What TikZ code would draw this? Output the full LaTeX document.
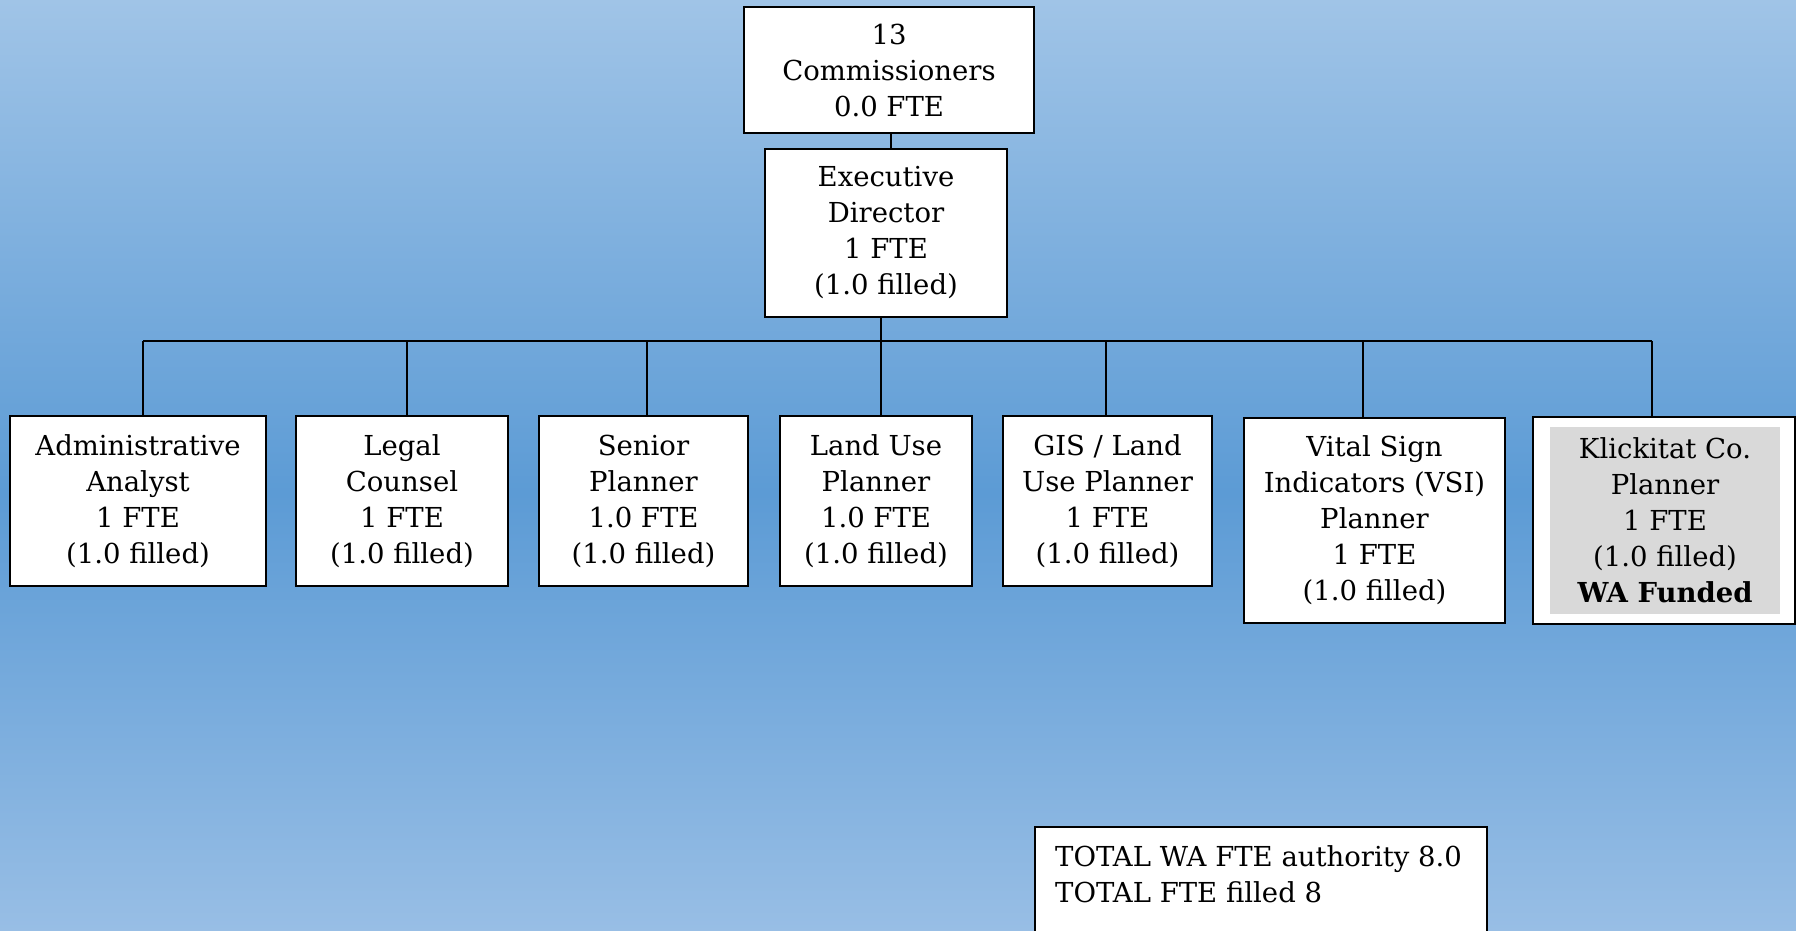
\documentclass[tikz,border=0pt]{standalone}
\usepackage{fontspec}
\setmainfont{DejaVu Serif}
\definecolor{bgtop}{RGB}{160,196,231}
\definecolor{bgmid}{RGB}{92,155,213}
\definecolor{bgbot}{RGB}{152,190,229}
\definecolor{klgray}{RGB}{217,217,217}
\pgfdeclareverticalshading{bgshade}{100bp}{color(0bp)=(bgbot); color(25bp)=(bgbot); color(48.5bp)=(bgmid); color(75bp)=(bgtop); color(100bp)=(bgtop)}
\tikzset{
  boxfont/.style={font=\fontsize{27.5}{36}\selectfont},
  box/.style={draw=black, line width=2pt, fill=white, align=center, inner sep=0pt, boxfont},
  conn/.style={draw=black, line width=2pt},
}
\begin{document}
\begin{tikzpicture}[x=1pt,y=-1pt]
\useasboundingbox (0,0) rectangle (1796,931);
\shade[shading=bgshade] (0,0) rectangle (1796,931);
% top
\node[box, minimum width=290pt, minimum height=126pt] (comm) at (889,70) {13\\Commissioners\\0.0 FTE};
\node[box, minimum width=242pt, minimum height=168pt] (exec) at (886,233) {Executive\\Director\\1 FTE\\(1.0 filled)};
% row
\node[box, minimum width=256pt, minimum height=170pt] (admin) at (138,501) {Administrative\\Analyst\\1 FTE\\(1.0 filled)};
\node[box, minimum width=212pt, minimum height=170pt] (legal) at (402,501) {Legal\\Counsel\\1 FTE\\(1.0 filled)};
\node[box, minimum width=209pt, minimum height=170pt] (senior) at (643.5,501) {Senior\\Planner\\1.0 FTE\\(1.0 filled)};
\node[box, minimum width=192pt, minimum height=170pt] (land) at (876,501) {Land Use\\Planner\\1.0 FTE\\(1.0 filled)};
\node[box, minimum width=209pt, minimum height=170pt] (gis) at (1107.5,501) {GIS / Land\\Use Planner\\1 FTE\\(1.0 filled)};
\node[box, minimum width=261pt, minimum height=205pt] (vital) at (1374.5,520.5) {Vital Sign\\Indicators (VSI)\\Planner\\1 FTE\\(1.0 filled)};
\node[box, minimum width=262pt, minimum height=207pt] (klick) at (1664,520.5) {};
\node[fill=klgray, minimum width=230pt, minimum height=187pt, inner sep=0pt, align=center, boxfont]
  (klickin) at (1665,520.5) {Klickitat Co.\\Planner\\1 FTE\\(1.0 filled)\\\textbf{WA Funded}};
% total
\node[box, anchor=north west, minimum width=452pt, minimum height=140pt] (total) at (1034,826) {};
\node[anchor=west, align=left, inner sep=0pt, boxfont] (totaltext) at (1055,874)
  {TOTAL WA FTE authority 8.0\\TOTAL FTE filled 8};
% connectors
\coordinate (busL) at (143,341);
\coordinate (busR) at (1652,341);
\coordinate (tapA) at (143,341);
\coordinate (tapB) at (406.5,341);
\coordinate (tapC) at (647,341);
\coordinate (tapD) at (881,341);
\coordinate (tapE) at (1106,341);
\coordinate (tapF) at (1363,341);
\coordinate (tapG) at (1652,341);
\coordinate (ce) at (891,0);
\draw[conn] (comm.south -| ce) -- (exec.north -| ce);
\draw[conn] (exec.south -| tapD) -- (tapD);
\draw[conn] (busL) -- (busR);
\draw[conn] (tapA) -- (tapA |- admin.north);
\draw[conn] (tapB) -- (tapB |- legal.north);
\draw[conn] (tapC) -- (tapC |- senior.north);
\draw[conn] (tapD) -- (tapD |- land.north);
\draw[conn] (tapE) -- (tapE |- gis.north);
\draw[conn] (tapF) -- (tapF |- vital.north);
\draw[conn] (tapG) -- (tapG |- klick.north);
\end{tikzpicture}
\end{document}
